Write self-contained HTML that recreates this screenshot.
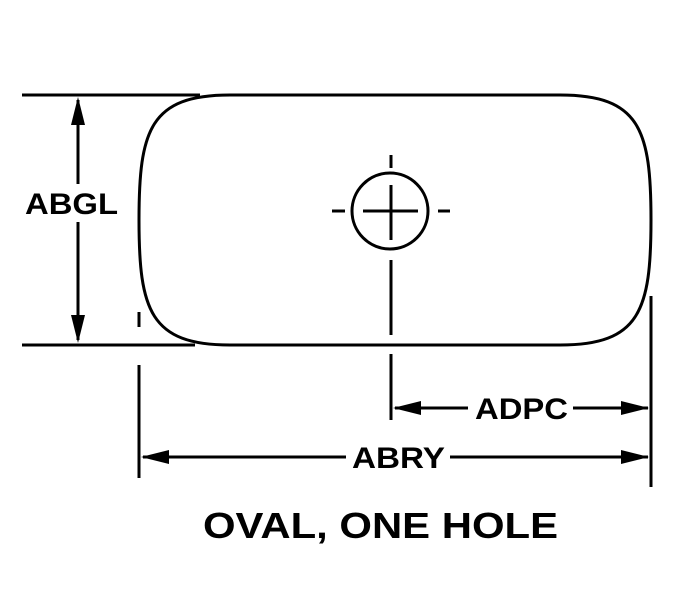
<!DOCTYPE html>
<html><head><style>
html,body{margin:0;padding:0;background:#fff;}
svg{display:block;}
text{font-family:"Liberation Sans",Arial,sans-serif;font-weight:bold;fill:#000;}
</style></head><body>
<svg width="685" height="594" viewBox="0 0 685 594" xmlns="http://www.w3.org/2000/svg">
<g stroke="#000" stroke-width="3" fill="none">
<path d="M230,95 L560,95 C640,95 651,130 651,220 C651,310 640,345 560,345 L230,345 C150,345 139,310 139,220 C139,130 150,95 230,95 Z"/>
<circle cx="390" cy="211" r="38"/>
<line x1="363" y1="211" x2="418" y2="211"/>
<line x1="391" y1="185" x2="391" y2="240"/>
<line x1="332" y1="211" x2="345" y2="211"/>
<line x1="438" y1="211" x2="450" y2="211"/>
<line x1="391" y1="155" x2="391" y2="168"/>
<line x1="391" y1="260" x2="391" y2="335"/>
<line x1="391" y1="354" x2="391" y2="420"/>
<line x1="651" y1="296" x2="651" y2="487"/>
<line x1="139" y1="312" x2="139" y2="327"/>
<line x1="139" y1="365" x2="139" y2="478"/>
<line x1="22" y1="95" x2="200" y2="95"/>
<line x1="22" y1="345" x2="195" y2="345"/>
<line x1="78" y1="100" x2="78" y2="184"/>
<line x1="78" y1="222" x2="78" y2="340"/>
<line x1="395" y1="408" x2="468" y2="408"/>
<line x1="573" y1="408" x2="648" y2="408"/>
<line x1="143" y1="457" x2="346" y2="457"/>
<line x1="450" y1="457" x2="648" y2="457"/>
</g>
<g fill="#000">
<polygon points="78,97 71,125 85,125"/>
<polygon points="78,343 71,315 85,315"/>
<polygon points="393,408 421,401 421,415"/>
<polygon points="649,408 621,401 621,415"/>
<polygon points="141,457 169,450 169,464"/>
<polygon points="649,457 621,450 621,464"/>
</g>
<text x="25" y="214" font-size="30" textLength="93" lengthAdjust="spacingAndGlyphs">ABGL</text>
<text x="475" y="419" font-size="30" textLength="93" lengthAdjust="spacingAndGlyphs">ADPC</text>
<text x="352" y="468" font-size="30" textLength="93" lengthAdjust="spacingAndGlyphs">ABRY</text>
<text x="203" y="538" font-size="36" textLength="355" lengthAdjust="spacingAndGlyphs">OVAL, ONE HOLE</text>
</svg>
</body></html>
